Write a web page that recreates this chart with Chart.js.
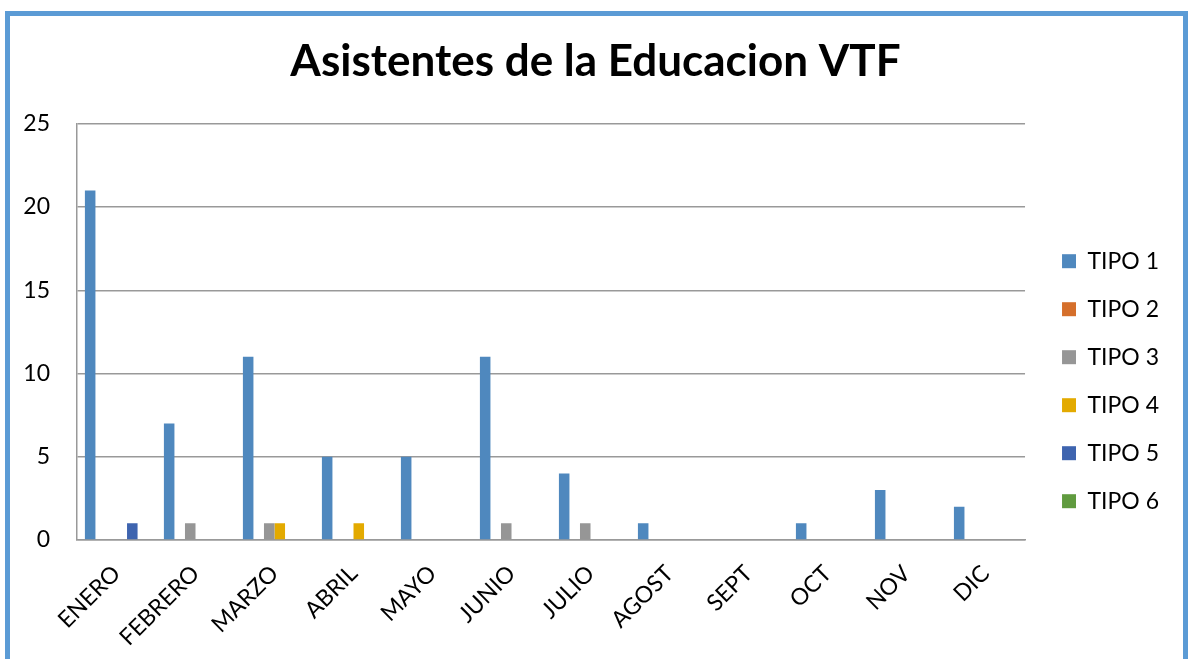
<!DOCTYPE html>
<html><head><meta charset="utf-8">
<script src="https://cdn.jsdelivr.net/npm/chart.js@4"></script>
<style>
html,body{margin:0;padding:0;background:#fff;width:1188px;height:659px;overflow:hidden}
#wrap{position:absolute;left:0;top:0;width:1188px;height:659px}
#frame{position:absolute;left:5px;top:11px;width:1173px;height:700px;border:5px solid #5B9BD5;pointer-events:none}
</style></head><body>
<div id="wrap"><canvas id="c" width="1188" height="659"></canvas></div>
<div id="frame"></div>
<script>
const categories = ['ENERO','FEBRERO','MARZO','ABRIL','MAYO','JUNIO','JULIO','AGOST','SEPT','OCT','NOV','DIC'];
const seriesNames = ['TIPO 1','TIPO 2','TIPO 3','TIPO 4','TIPO 5','TIPO 6'];
const tipo1 = [21,7,11,5,5,11,4,1,0,1,3,2];
const tipo2 = [0,0,0,0,0,0,0,0,0,0,0,0];
const tipo3 = [0,1,1,0,0,1,1,0,0,0,0,0];
const tipo4 = [0,0,1,1,0,0,0,0,0,0,0,0];
const tipo5 = [1,0,0,0,0,0,0,0,0,0,0,0];
const tipo6 = [0,0,0,0,0,0,0,0,0,0,0,0];
const yTicks = [0,5,10,15,20,25];
const colors = ['#4F88BE','#D56F2B','#969696','#E3AA00','#3E64AF','#609B3F'];
const allSeries = [tipo1,tipo2,tipo3,tipo4,tipo5,tipo6];
const FONT = 'Lato';

new Chart(document.getElementById('c'), {
  type:'bar',
  data:{
    labels:categories,
    datasets: allSeries.map((d,i)=>({label:seriesNames[i],data:d,backgroundColor:colors[i],borderWidth:0,categoryPercentage:0.8,barPercentage:1}))
  },
  options:{
    responsive:false,
    animation:false,
    layout:{padding:{left:22,right:19,top:0,bottom:0}},
    plugins:{
      title:{display:true,text:'Asistentes de la Educacion VTF',color:'#000',font:{family:FONT,size:44,weight:'bold'},padding:{top:35,bottom:36}},
      legend:{position:'right',
        title:{display:true,text:' ',font:{size:12},padding:{top:89,bottom:0}},
        labels:{boxWidth:14,boxHeight:14,padding:25,color:'#000',font:{family:FONT,size:23}}},
      tooltip:{enabled:false}
    },
    scales:{
      x:{
        grid:{display:false,drawTicks:false},
        border:{color:'#999',width:1.5},
        ticks:{color:'#000',minRotation:45,maxRotation:45,padding:20,font:{family:FONT,size:23}},
        afterFit(s){s.height=119;}
      },
      y:{
        min:0,max:25,
        afterBuildTicks(s){s.ticks=yTicks.map(v=>({value:v}));},
        grid:{color:'#999',lineWidth:1.5,drawTicks:false},
        border:{color:'#999',width:1.5},
        ticks:{color:'#000',padding:27,font:{family:FONT,size:23}},
        afterFit(s){s.width=55;}
      },
      gap:{
        position:'right',display:true,
        grid:{display:false,drawTicks:false},
        border:{display:false},
        ticks:{display:false},
        afterFit(s){s.width=12;}
      }
    }
  }
});
</script>
</body></html>
